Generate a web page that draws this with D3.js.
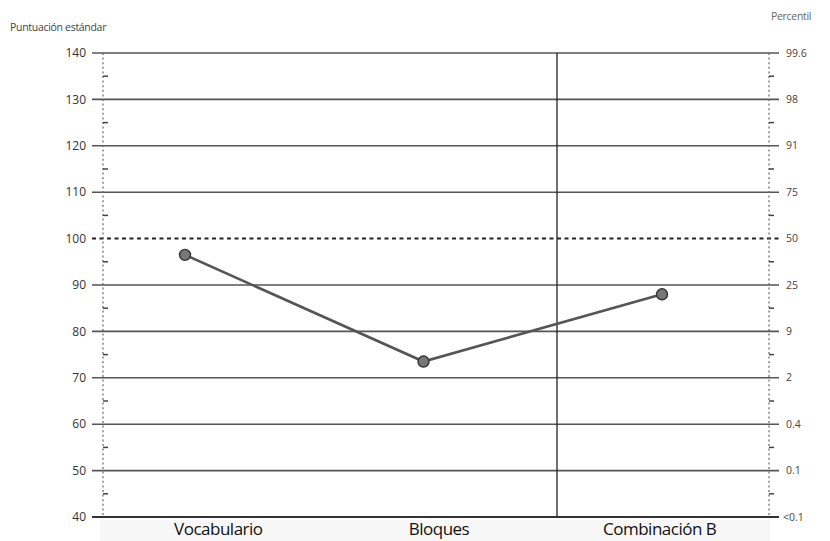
<!DOCTYPE html>
<html>
<head>
<meta charset="utf-8">
<script src="https://cdn.jsdelivr.net/npm/d3@7"></script>
<style>
  html, body { margin: 0; padding: 0; background: #fff; }
  svg { display: block; font-family: "Open Sans", "Noto Sans", sans-serif; }
</style>
</head>
<body>
<svg id="chart" width="830" height="541"></svg>
<script>
// Subtests and their standard scores
const subtests = ["Vocabulario", "Bloques", "Combinación B"];
const scores = [96.5, 73.5, 88];

// Standard-score scale and matching percentile labels
const scoreTicks = [40, 50, 60, 70, 80, 90, 100, 110, 120, 130, 140];
const percentileLabels = ["<0.1", "0.1", "0.4", "2", "9", "25", "50", "75", "91", "98", "99.6"];

const svg = d3.select("#chart");

const y = d3.scaleLinear().domain([40, 140]).range([517, 53]);
// Columns where the labels sit
const xBand = d3.scaleBand().domain(subtests).range([108, 770]);
// Positions of the plotted scores
const xPt = d3.scalePoint().domain(subtests).range([185, 662]);

const gridLeft = 92, gridRight = 779;
const leftAxisX = 103, rightAxisX = 769;

// Horizontal reference lines
svg.append("g").selectAll("line")
  .data(scoreTicks.filter(d => d !== 100 && d !== 40))
  .join("line")
  .attr("x1", gridLeft).attr("x2", gridRight)
  .attr("y1", d => y(d)).attr("y2", d => y(d))
  .attr("stroke", "#555").attr("stroke-width", 1.6);

// Baseline at 40
svg.append("line")
  .attr("x1", gridLeft).attr("x2", gridRight)
  .attr("y1", y(40)).attr("y2", y(40))
  .attr("stroke", "#333").attr("stroke-width", 2.2);

// Mean line at 100
svg.append("line")
  .attr("x1", gridLeft).attr("x2", gridRight)
  .attr("y1", y(100)).attr("y2", y(100))
  .attr("stroke", "#222").attr("stroke-width", 2)
  .attr("stroke-dasharray", "4,3.5");

// Separator before the composite score
svg.append("line")
  .attr("x1", 557).attr("x2", 557)
  .attr("y1", y(140)).attr("y2", y(40))
  .attr("stroke", "#222").attr("stroke-width", 1.3);

// Dotted side rulers with half-step marks
function ruler(x, dir) {
  const g = svg.append("g");
  g.append("line")
    .attr("x1", x).attr("x2", x)
    .attr("y1", y(140)).attr("y2", y(40))
    .attr("stroke", "#666").attr("stroke-width", 1.2)
    .attr("stroke-dasharray", "2,2.6");
  g.selectAll("line.half")
    .data(d3.range(45, 140, 10))
    .join("line")
    .attr("class", "half")
    .attr("x1", x).attr("x2", x + dir * 5)
    .attr("y1", d => y(d)).attr("y2", d => y(d))
    .attr("stroke", "#444").attr("stroke-width", 1.5);
}
ruler(leftAxisX, 1);
ruler(rightAxisX, 1);

// Left tick labels
svg.append("g").selectAll("text")
  .data(scoreTicks)
  .join("text")
  .attr("x", 86).attr("y", d => y(d))
  .attr("dy", "0.35em")
  .attr("text-anchor", "end")
  .attr("font-size", 12)
  .attr("fill", "#333")
  .text(d => d);

// Right percentile labels
svg.append("g").selectAll("text")
  .data(scoreTicks)
  .join("text")
  .attr("x", (d, i) => i === 0 ? 783 : 786)
  .attr("y", d => y(d))
  .attr("dy", "0.35em")
  .attr("font-size", 10.5)
  .attr("fill", "#444")
  .text((d, i) => percentileLabels[i]);

// Axis titles
svg.append("text")
  .attr("x", 10).attr("y", 31)
  .attr("font-size", 10.5).attr("fill", "#444")
  .attr("letter-spacing", "-0.3")
  .text("Puntuación estándar");
svg.append("text")
  .attr("x", 771).attr("y", 20)
  .attr("font-size", 10.5).attr("fill", "#666")
  .attr("letter-spacing", "-0.3")
  .text("Percentil");

// Faint band under the baseline
svg.append("rect")
  .attr("x", 100).attr("y", 520)
  .attr("width", 670).attr("height", 21)
  .attr("fill", "#eeeeee").attr("opacity", 0.45);

// Subtest names
svg.append("g").selectAll("text")
  .data(subtests)
  .join("text")
  .attr("x", d => xBand(d) + xBand.bandwidth() / 2)
  .attr("y", 535)
  .attr("text-anchor", "middle")
  .attr("font-size", 17)
  .attr("fill", "#111")
  .attr("letter-spacing", "-0.5")
  .text(d => d);

// Score profile
const pts = subtests.map((s, i) => [xPt(s), y(scores[i])]);
svg.append("path")
  .attr("d", d3.line()(pts))
  .attr("fill", "none")
  .attr("stroke", "#555").attr("stroke-width", 2.6)
  .attr("stroke-linecap", "round");
svg.append("g").selectAll("circle")
  .data(subtests)
  .join("circle")
  .attr("cx", d => xPt(d))
  .attr("cy", (d, i) => y(scores[i]))
  .attr("r", 5.5)
  .attr("fill", "#777")
  .attr("stroke", "#333").attr("stroke-width", 1.4);
</script>
</body>
</html>
